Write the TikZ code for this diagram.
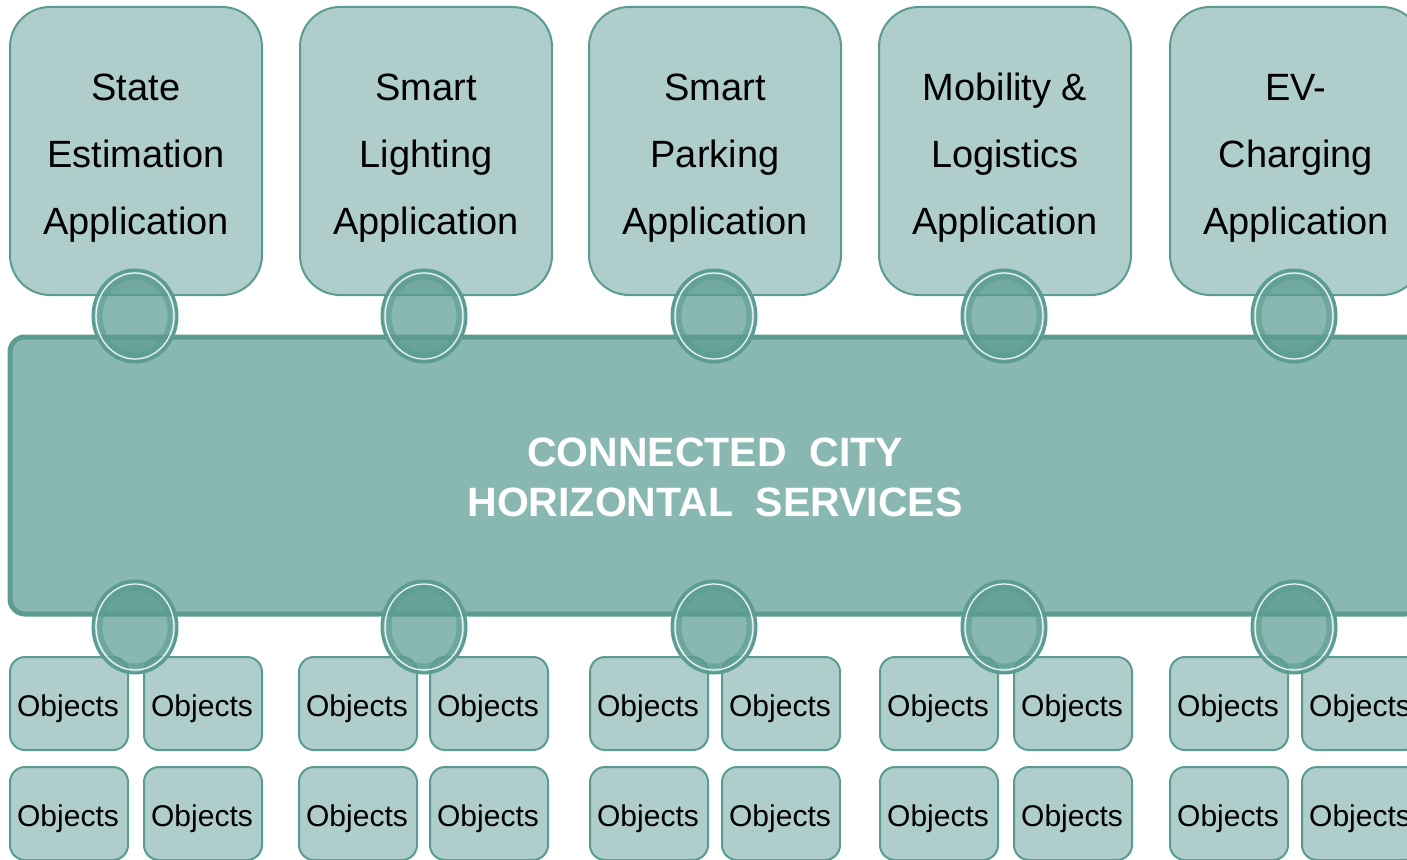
\documentclass[tikz,border=0pt]{standalone}
\usepackage{fontspec}
\setmainfont{Liberation Sans}
\usetikzlibrary{shapes.geometric}
\definecolor{tealline}{HTML}{5A9C91}
\definecolor{appfill}{HTML}{AECDCB}
\definecolor{busfill}{HTML}{89B7B1}
\tikzset{
  appbox/.style={draw=tealline, line width=2pt, fill=appfill, rounded corners=40pt,
    minimum width=252pt, minimum height=288pt, inner sep=0pt},
  apptext/.style={inner sep=0pt, align=center, font=\fontsize{38}{67}\selectfont},
  objbox/.style={draw=tealline, line width=2pt, fill=appfill, rounded corners=15pt,
    minimum width=118pt, minimum height=93pt, inner sep=0pt},
  objtext/.style={inner sep=0pt, font=\fontsize{30}{36}\selectfont},
  busbox/.style={draw=tealline, line width=5pt, fill=busfill, rounded corners=15pt,
    minimum width=1410pt, minimum height=277pt, inner sep=0pt},
  bustext/.style={inner sep=0pt, align=center, text=white,
    font=\bfseries\fontsize{41}{50}\selectfont},
  joint/.style={ellipse, draw=tealline, line width=3pt, fill=tealline, fill opacity=0.72,
    minimum width=84pt, minimum height=92pt, inner sep=0pt},
  jointwhite/.style={ellipse, draw=white, draw opacity=0.9, line width=1.2pt, minimum width=78pt,
    minimum height=86pt, inner sep=0pt},
  jointinner/.style={ellipse, draw=tealline, draw opacity=0.6, line width=5pt,
    minimum width=70pt, minimum height=78pt, inner sep=0pt}
}
\begin{document}
\begin{tikzpicture}[x=1pt,y=-1pt]
\useasboundingbox (0,0) rectangle (1407,859);
\clip (0,0) rectangle (1407,859);
% application boxes
\foreach \i/\x/\t in {1/136/{State\\Estimation\\Application},
                      2/426/{Smart\\Lighting\\Application},
                      3/715/{Smart\\Parking\\Application},
                      4/1005/{Mobility \&\\Logistics\\Application},
                      5/1296/{EV-\\Charging\\Application}}{
  \node[appbox] (a\i) at (\x,151) {};
  \node[apptext] (a\i t) at ([yshift=-7pt]a\i.center) {\t};
}
% bus
\node[busbox] (bus) at (715,475.5) {};
\node[bustext] (bust) at ([yshift=-2pt]bus.center) {CONNECTED\ \ CITY\\HORIZONTAL\ \ SERVICES};
% objects
\foreach \g/\l/\r in {1/69/203, 2/358/489, 3/649/781, 4/939/1073, 5/1229/1361}{
  \foreach \k/\x/\y in {a/\l/703.5, b/\r/703.5, c/\l/813.5, d/\r/813.5}{
    \node[objbox] (o\g\k) at (\x,\y) {};
    \node[objtext] (o\g\k t) at ([yshift=-5pt,xshift=-1pt]o\g\k.center) {Objects};
  }
}
% joints
\foreach \i/\x in {1/135, 2/424, 3/714, 4/1004, 5/1294}{
  \node[joint] (t\i) at (\x,316) {};
  \node[jointinner] (ti\i) at (t\i) {};
  \node[jointwhite] (tw\i) at (t\i) {};
  \node[joint] (b\i) at (\x,627) {};
  \node[jointinner] (bi\i) at (b\i) {};
  \node[jointwhite] (bw\i) at (b\i) {};
}
\end{tikzpicture}
\end{document}
